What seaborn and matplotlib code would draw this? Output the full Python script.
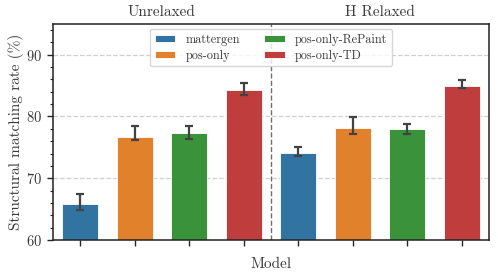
import matplotlib

matplotlib.use("Agg")
import matplotlib.pyplot as plt
import pandas as pd
import seaborn as sns
from matplotlib.ticker import MultipleLocator

MODELS = ["mattergen", "pos-only", "pos-only-RePaint", "pos-only-TD"]
SETTINGS = ["Unrelaxed", "H Relaxed"]

# mean matching rate per bar, unrelaxed first then H relaxed
rate = [65.9, 76.7, 77.4, 84.3, 74.1, 78.2, 78.0, 85.0]
err_lo = [64.9, 76.2, 76.4, 83.4, 73.6, 77.2, 77.2, 84.6]
err_hi = [67.5, 78.5, 78.5, 85.5, 75.0, 79.9, 78.8, 85.9]

df = pd.DataFrame({
    "slot": [f"{s}|{m}" for s in SETTINGS for m in MODELS],
    "model": MODELS * 2,
    "rate": rate,
})

sns.set_theme(style="ticks")
plt.rcParams["font.family"] = "serif"
plt.rcParams["font.serif"] = ["cmr10", "DejaVu Serif"]
plt.rcParams["mathtext.fontset"] = "cm"
plt.rcParams["axes.formatter.use_mathtext"] = True
for key in ["text.color", "axes.labelcolor", "xtick.labelcolor", "ytick.labelcolor"]:
    plt.rcParams[key] = "#3a3a3a"

fig, ax = plt.subplots(figsize=(4.98, 2.78), dpi=100)
ax.yaxis.grid(True, linestyle="--", color="#d0d0d0", linewidth=0.9)
ax.set_axisbelow(True)

sns.barplot(data=df, x="slot", y="rate", hue="model", hue_order=MODELS,
            palette="tab10", dodge=False, width=0.66, ax=ax,
            edgecolor="white", linewidth=0.6)

xs = range(len(rate))
yerr = [[r - lo for r, lo in zip(rate, err_lo)], [hi - r for r, hi in zip(rate, err_hi)]]
ax.errorbar(xs, rate, yerr=yerr, fmt="none", ecolor="#424242", elinewidth=1.6,
            capsize=2.6, capthick=1.6, zorder=5)

ax.axvline(3.5, color="#707070", linestyle="--", linewidth=1.0)
ax.set_ylim(60, 95)
ax.set_xlim(-0.5, 7.5)
ax.yaxis.set_major_locator(MultipleLocator(10))
ax.yaxis.set_minor_locator(MultipleLocator(2))
ax.tick_params(axis="both", labelsize=10.5, length=4, width=1)
ax.tick_params(axis="y", which="minor", length=2.5, width=0.8)
ax.set_xticklabels([])
ax.set_xlabel("Model", fontsize=11, labelpad=5)
ax.set_ylabel("Structural matching rate (%)", fontsize=11, labelpad=2)
for spine in ax.spines.values():
    spine.set_linewidth(1.1)
    spine.set_color("#222222")

ax.text(1.5, 1.025, "Unrelaxed", transform=ax.get_xaxis_transform(),
        ha="center", va="bottom", fontsize=11)
ax.text(5.5, 1.025, "H Relaxed", transform=ax.get_xaxis_transform(),
        ha="center", va="bottom", fontsize=11)

ax.legend(loc="upper center", ncol=2, fontsize=8.8, frameon=True,
          handlelength=1.7, handleheight=0.45, handletextpad=0.8,
          columnspacing=2.0, labelspacing=0.3, borderpad=0.4,
          borderaxespad=0.4, title=None)

fig.subplots_adjust(left=0.106, right=0.982, top=0.914, bottom=0.137)
fig.savefig("out.png", dpi=100)
